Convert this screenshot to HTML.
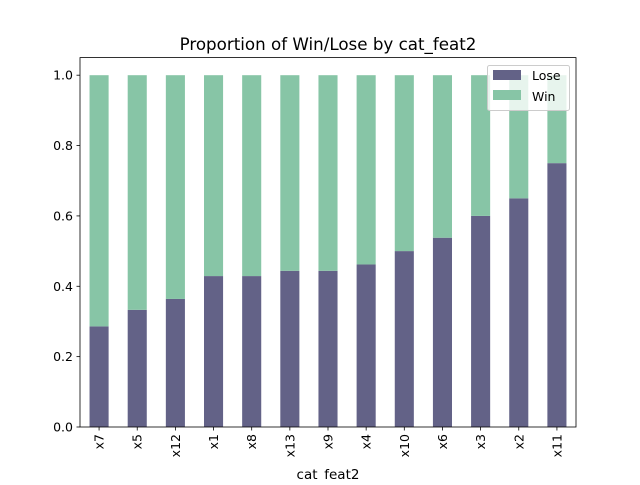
<!DOCTYPE html>
<html><head><meta charset="utf-8"><style>
body{margin:0;background:#fff;}
svg{font-family:"DejaVu Sans","Liberation Sans",sans-serif;}
</style></head><body>
<svg id="chart" width="640" height="480" xmlns="http://www.w3.org/2000/svg">
<rect width="640" height="480" fill="#fff"/>
<text x="328" y="50" text-anchor="middle" font-size="16.7">Proportion of Win/Lose by cat_feat2</text>
<g id="bars"></g>
<g id="axes"></g>
<text x="328" y="479" text-anchor="middle" font-size="13.5">cat_feat2</text>
<g>
<rect x="487.5" y="65.5" width="82" height="45" fill="#fff" fill-opacity="0.8" stroke="#ccc" rx="2"/>
<rect x="493" y="70" width="28" height="10" fill="#636287"/>
<text x="532" y="80" font-size="12.5">Lose</text>
<rect x="493" y="90" width="28" height="10" fill="#87c5a6"/>
<text x="532" y="101" font-size="12.5">Win</text>
</g>
</svg>
<script>
const categories=["x7","x5","x12","x1","x8","x13","x9","x4","x10","x6","x3","x2","x11"];
const loseValues=[0.286,0.333,0.364,0.429,0.429,0.444,0.444,0.462,0.5,0.538,0.6,0.65,0.75];
const winValues=[0.714,0.667,0.636,0.571,0.571,0.556,0.556,0.538,0.5,0.462,0.4,0.35,0.25];
const yTicks=[0,0.2,0.4,0.6,0.8,1.0];
const yTickLabels=["0.0","0.2","0.4","0.6","0.8","1.0"];
const NS="http://www.w3.org/2000/svg";
const L=80,R=576,T=57.6,B=427;
const n=categories.length;
const xs=i=>L+(i+0.5)*(R-L)/n;
const ys=v=>B-v/1.05*(B-T);
const bw=0.5*(R-L)/n;
const bars=document.getElementById('bars'),axes=document.getElementById('axes');
function mk(tag,attrs,parent){const e=document.createElementNS(NS,tag);for(const k in attrs)e.setAttribute(k,attrs[k]);parent.appendChild(e);return e;}
categories.forEach((c,i)=>{
  const lo=loseValues[i],w=winValues[i];
  const r1=mk('rect',{x:xs(i)-bw/2,y:ys(lo),width:bw,height:ys(0)-ys(lo),fill:'#636287'},bars);
  
  
  const r2=mk('rect',{x:xs(i)-bw/2,y:ys(lo+w),width:bw,height:ys(lo)-ys(lo+w),fill:'#87c5a6'},bars);
  
  
  const t=mk('line',{x1:xs(i),x2:xs(i),y1:B,y2:B+3.5,stroke:'#000','stroke-width':0.8},axes);
  
  
  const tx=mk('text',{x:0,y:0,'font-size':12.5,'text-anchor':'end',transform:`translate(${xs(i)+4.5},${B+7}) rotate(-90)`},axes);
  tx.textContent=c;
  
  
});
yTicks.forEach((v,i)=>{
  const t=mk('line',{x1:L-3.5,x2:L,y1:ys(v),y2:ys(v),stroke:'#000','stroke-width':0.8},axes);
  
  
  const tx=mk('text',{x:L-7,y:ys(v)+4.5,'font-size':12.5,'text-anchor':'end'},axes);
  tx.textContent=yTickLabels[i];
  
  
});
const f=mk('rect',{x:L,y:T,width:R-L,height:B-T,fill:'none',stroke:'#000','stroke-width':0.8},axes);


</script>
</body></html>
